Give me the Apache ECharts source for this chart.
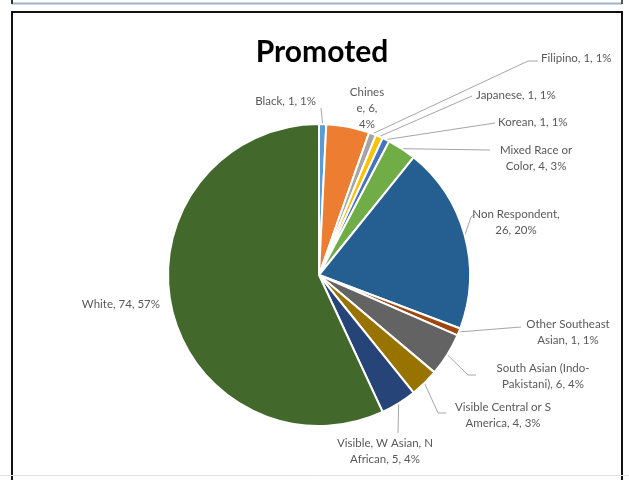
<!DOCTYPE html>
<html>
<head>
<meta charset="utf-8">
<script src="https://cdn.jsdelivr.net/npm/echarts@6/dist/echarts.min.js"></script>
<style>
  html, body { margin: 0; padding: 0; background: #fff; }
  #chart { width: 629px; height: 480px; }
</style>
</head>
<body>
<div id="chart"></div>
<script>
// data, clockwise from 12 o'clock
var categories = [
    "Black", "Chinese", "Filipino", "Japanese", "Korean", "Mixed Race or Color",
    "Non Respondent", "Other Southeast Asian", "South Asian (Indo-Pakistani)",
    "Visible Central or S America", "Visible, W Asian, N African", "White"
];
var counts = [1, 6, 1, 1, 1, 4, 26, 1, 6, 4, 5, 74];
var percents = [1, 4, 1, 1, 1, 3, 20, 1, 4, 3, 4, 57];
// label text as wrapped in the original
var labelNames = [
    "Black", "Chines\ne", "Filipino", "Japanese", "Korean", "Mixed Race or\nColor",
    "Non Respondent,\n", "Other Southeast\nAsian", "South Asian (Indo-\nPakistani)",
    "Visible Central or S\nAmerica", "Visible, W Asian, N\nAfrican", "White"
];

var colors = ["#5b9bd5", "#ed7d31", "#a5a5a5", "#ffc000", "#4472c4", "#70ad47",
              "#255e91", "#9e480e", "#636363", "#997300", "#264478", "#43682b"];

// label placement (x, y, align) and leader line bend points
var labelPlace = [
    [316, 101, "right"], [367, 108, "center"], [541, 58, "left"], [476, 95, "left"],
    [498, 122, "left"], [536, 158, "center"], [516, 222, "center"], [568, 332, "center"],
    [543, 376, "center"], [503, 415, "center"], [385, 451, "center"], [160, 304, "right"]
];
var leaderBends = [
    [[321, 108]], null, [[528, 61], [538, 61]], [[472, 96]], [[495, 123]], [[490, 150]],
    [[471, 217], [475, 214]], [[521, 327]], [[468, 375], [476, 375]],
    [[438, 413], [446, 413]], [[398, 433]], null
];

function labelText(i) {
    var n = labelNames[i];
    if (i === 1) return n + ", " + counts[i] + ",\n" + percents[i] + "%";
    if (i === 6) return n + counts[i] + ", " + percents[i] + "%";
    return n + ", " + counts[i] + ", " + percents[i] + "%";
}

var pieData = categories.map(function (c, i) {
    return {
        name: c,
        value: counts[i],
        itemStyle: { color: colors[i] },
        labelLine: { show: leaderBends[i] != null }
    };
});

var chart = echarts.init(document.getElementById("chart"), null, { renderer: "canvas" });

chart.setOption({
    animation: false,
    backgroundColor: "#fff",
    title: {
        text: "Promoted",
        left: 317,
        top: 32,
        textAlign: "center",
        textStyle: { fontFamily: "Lato", fontWeight: "bold", fontSize: 30, color: "#000" }
    },
    graphic: [
        { type: "line", shape: { x1: 12, y1: 3.5, x2: 622, y2: 3.5 }, style: { stroke: "#9fb2cc", lineWidth: 2 } },
        { type: "line", shape: { x1: 12, y1: 0, x2: 12, y2: 4 }, style: { stroke: "#333", lineWidth: 2 } },
        { type: "line", shape: { x1: 622, y1: 0, x2: 622, y2: 4 }, style: { stroke: "#555", lineWidth: 2 } },
        { type: "rect", shape: { x: 12, y: 12, width: 610, height: 490 }, style: { fill: null, stroke: "#111", lineWidth: 2 } },
        { type: "line", shape: { x1: 0, y1: 475.5, x2: 629, y2: 475.5 }, style: { stroke: "#e2e2e2", lineWidth: 1 } }
    ],
    series: [{
        type: "pie",
        center: [319, 275],
        radius: 151,
        startAngle: 90,
        clockwise: true,
        avoidLabelOverlap: false,
        itemStyle: { borderColor: "#fff", borderWidth: 2 },
        label: {
            show: true,
            position: "outside",
            formatter: function (p) { return labelText(p.dataIndex); },
            fontFamily: "Lato",
            fontSize: 11.5,
            lineHeight: 16,
            color: "#595959"
        },
        labelLine: {
            show: true,
            length: 10,
            length2: 10,
            lineStyle: { color: "#a6a6a6", width: 1 }
        },
        labelLayout: function (params) {
            var i = params.dataIndex;
            var pl = labelPlace[i];
            var out = { x: pl[0], y: pl[1], align: pl[2], verticalAlign: "middle" };
            if (leaderBends[i] && params.labelLinePoints) {
                out.labelLinePoints = [params.labelLinePoints[0]].concat(leaderBends[i]);
            }
            return out;
        },
        emphasis: { disabled: true },
        data: pieData
    }]
});
</script>
</body>
</html>
